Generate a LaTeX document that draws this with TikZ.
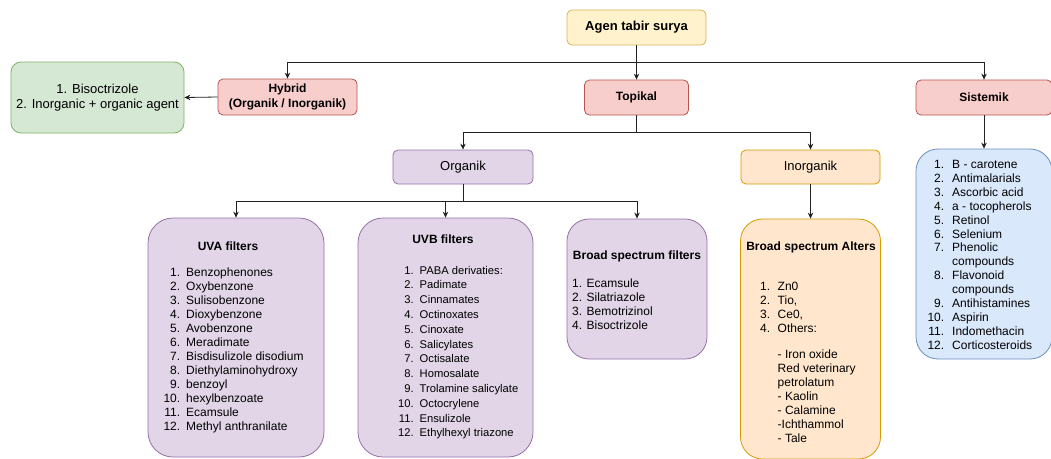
\documentclass[tikz,border=0pt]{standalone}
\usepackage{fontspec}
\setmainfont{Liberation Sans}
\usetikzlibrary{arrows.meta}
\definecolor{ylwF}{HTML}{FFF2CC}\definecolor{ylwD}{HTML}{D6B656}
\definecolor{redF}{HTML}{F8CECC}\definecolor{redD}{HTML}{B85450}
\definecolor{grnF}{HTML}{D5E8D4}\definecolor{grnD}{HTML}{82B366}
\definecolor{purF}{HTML}{E1D5E7}\definecolor{purD}{HTML}{9673A6}
\definecolor{orgF}{HTML}{FFE6CC}\definecolor{orgD}{HTML}{D79B00}
\definecolor{bluF}{HTML}{DAE8FC}\definecolor{bluD}{HTML}{6C8EBF}
\definecolor{lineC}{HTML}{222222}
\newcommand\nm[2][6pt]{\llap{#2\hspace{#1}}}
\begin{document}
\begin{tikzpicture}[x=1pt,y=-1pt,
  box/.style={draw, line width=0.8pt, rounded corners=5pt, inner sep=0pt, align=center},
  ylw/.style={box, fill=ylwF, draw=ylwD},
  red/.style={box, fill=redF, draw=redD},
  grn/.style={box, fill=grnF, draw=grnD, rounded corners=10pt},
  pur/.style={box, fill=purF, draw=purD},
  org/.style={box, fill=orgF, draw=orgD},
  blu/.style={box, fill=bluF, draw=bluD},
  big/.style={rounded corners=22pt},
  arr/.style={draw=lineC, line width=0.8pt, -{Stealth[length=6pt,width=5.5pt]}},
  ln/.style={draw=lineC, line width=0.8pt},
  lbl/.style={font=\fontsize{13}{15.3}\selectfont},
  blbl/.style={font=\bfseries\fontsize{12}{15.3}\selectfont},
  txt/.style={inner sep=0pt, anchor=base west, font=\fontsize{12}{14}\selectfont},
  ttl/.style={inner sep=0pt, anchor=base, font=\bfseries\fontsize{12}{14}\selectfont}]
\useasboundingbox (0,0) rectangle (1051,458);
\fill[white] (0,0) rectangle (1051,458);

% top level
\node[ylw, minimum width=139pt, minimum height=35pt, font=\bfseries\fontsize{13}{15}\selectfont] (agen) at (636.5,27.5) {Agen tabir surya};
\node[red, minimum width=104pt, minimum height=35pt, blbl] (topikal) at (636.5,97.5) {Topikal};
\node[red, minimum width=136pt, minimum height=35pt, blbl] (sistemik) at (984,97.5) {Sistemik};
\node[red, minimum width=139pt, minimum height=36pt, blbl] (hybrid) at (287.5,97) {Hybrid\\(Organik / Inorganik)};
\node[grn, minimum width=173pt, minimum height=71pt, lbl] (green) at (97.5,97.5) {1. Bisoctrizole\\2. Inorganic + organic agent};

% second level
\node[pur, minimum width=140pt, minimum height=34pt, lbl] (organik) at (463,167) {Organik};
\node[org, minimum width=139pt, minimum height=34pt, lbl] (inorganik) at (810.5,167) {Inorganik};

% big boxes
\node[pur, big, minimum width=176pt, minimum height=239pt, rounded corners=25pt] (uva) at (236,337.5) {};
\node[pur, big, minimum width=175pt, minimum height=239pt, rounded corners=25pt] (uvb) at (445.5,337.5) {};
\node[pur, big, minimum width=140pt, minimum height=140pt] (bsf) at (637,289) {};
\node[org, big, minimum width=140pt, minimum height=240pt] (alters) at (810.5,339) {};
\node[blu, big, minimum width=136pt, minimum height=210pt] (blue) at (984,254) {};

% connectors
\coordinate (j1) at (636.5,62);
\coordinate (j2) at (636.5,132);
\coordinate (j3) at (463,201);
\draw[arr] (agen.south) -- (topikal.north);
\draw[arr] (j1) -| (hybrid.north);
\draw[arr] (j1) -| (sistemik.north);
\draw[arr] (hybrid.west) -- (green.east);
\draw[ln] (topikal.south) -- (j2);
\draw[arr] (j2) -| (organik.north);
\draw[arr] (j2) -| (inorganik.north);
\draw[arr] (sistemik.south) -- (blue.north);
\draw[ln] (organik.south) -- (j3);
\draw[arr] (j3) -| (uva.north);
\draw[arr] (j3) -| (uvb.north);
\draw[arr] (j3) -| (bsf.north);
\draw[arr] (inorganik.south) -- (alters.north);

% UVA
\node[ttl] (uvaT) at (228,250) {UVA filters};
\node[txt] (uvaL) at (186,276.5) {\begin{tabular}[t]{@{}l@{}}
\nm{1.}Benzophenones\\ \nm{2.}Oxybenzone\\ \nm{3.}Sulisobenzone\\ \nm{4.}Dioxybenzone\\
\nm{5.}Avobenzone\\ \nm{6.}Meradimate\\ \nm{7.}Bisdisulizole disodium\\ \nm{8.}Diethylaminohydroxy\\
\nm{9.}benzoyl\\ \nm{10.}hexylbenzoate\\ \nm{11.}Ecamsule\\ \nm{12.}Methyl anthranilate
\end{tabular}};

% UVB
\node[ttl] (uvbT) at (443,243.5) {UVB filters};
\node[txt, font=\fontsize{11.2}{14.8}\selectfont] (uvbL) at (419.5,274) {\begin{tabular}[t]{@{}l@{}}
\nm{1.}PABA derivaties:\\ \nm{2.}Padimate\\ \nm{3.}Cinnamates\\ \nm{4.}Octinoxates\\
\nm{5.}Cinoxate\\ \nm{6.}Salicylates\\ \nm{7.}Octisalate\\ \nm{8.}Homosalate\\
\nm{9.}Trolamine salicylate\\ \nm{10.}Octocrylene\\ \nm{11.}Ensulizole\\ \nm{12.}Ethylhexyl triazone
\end{tabular}};

% Broad spectrum filters
\node[ttl] (bsfT) at (637,259.5) {Broad spectrum filters};
\node[txt] (bsfL) at (572,287.5) {\begin{tabular}[t]{@{}l@{}}
1. Ecamsule\\ 2. Silatriazole\\ 3. Bemotrizinol\\ 4. Bisoctrizole
\end{tabular}};

% Broad spectrum Alters
\node[ttl] (altT) at (811,250.5) {Broad spectrum Alters};
\node[txt] (altL) at (777.5,290.5) {\begin{tabular}[t]{@{}l@{}}
\nm[7.5pt]{1.}Zn0\\ \nm[7.5pt]{2.}Tio,\\ \nm[7.5pt]{3.}Ce0,\\ \nm[7.5pt]{4.}Others:
\end{tabular}};
\node[txt] (altL2) at (777.5,358.5) {\begin{tabular}[t]{@{}l@{}}
- Iron oxide\\ Red veterinary\\ petrolatum\\ - Kaolin\\ - Calamine\\ -Ichthammol\\ - Tale
\end{tabular}};

% Sistemik list
\node[txt, font=\fontsize{12}{13.9}\selectfont] (bluL) at (952,168.5) {\begin{tabular}[t]{@{}l@{}}
\nm[8pt]{1.}B - carotene\\ \nm[8pt]{2.}Antimalarials\\ \nm[8pt]{3.}Ascorbic acid\\ \nm[8pt]{4.}a - tocopherols\\
\nm[8pt]{5.}Retinol\\ \nm[8pt]{6.}Selenium\\ \nm[8pt]{7.}Phenolic\\ compounds\\ \nm[8pt]{8.}Flavonoid\\ compounds\\
\nm[8pt]{9.}Antihistamines\\ \nm[8pt]{10.}Aspirin\\ \nm[8pt]{11.}Indomethacin\\ \nm[8pt]{12.}Corticosteroids
\end{tabular}};
\end{tikzpicture}
\end{document}
